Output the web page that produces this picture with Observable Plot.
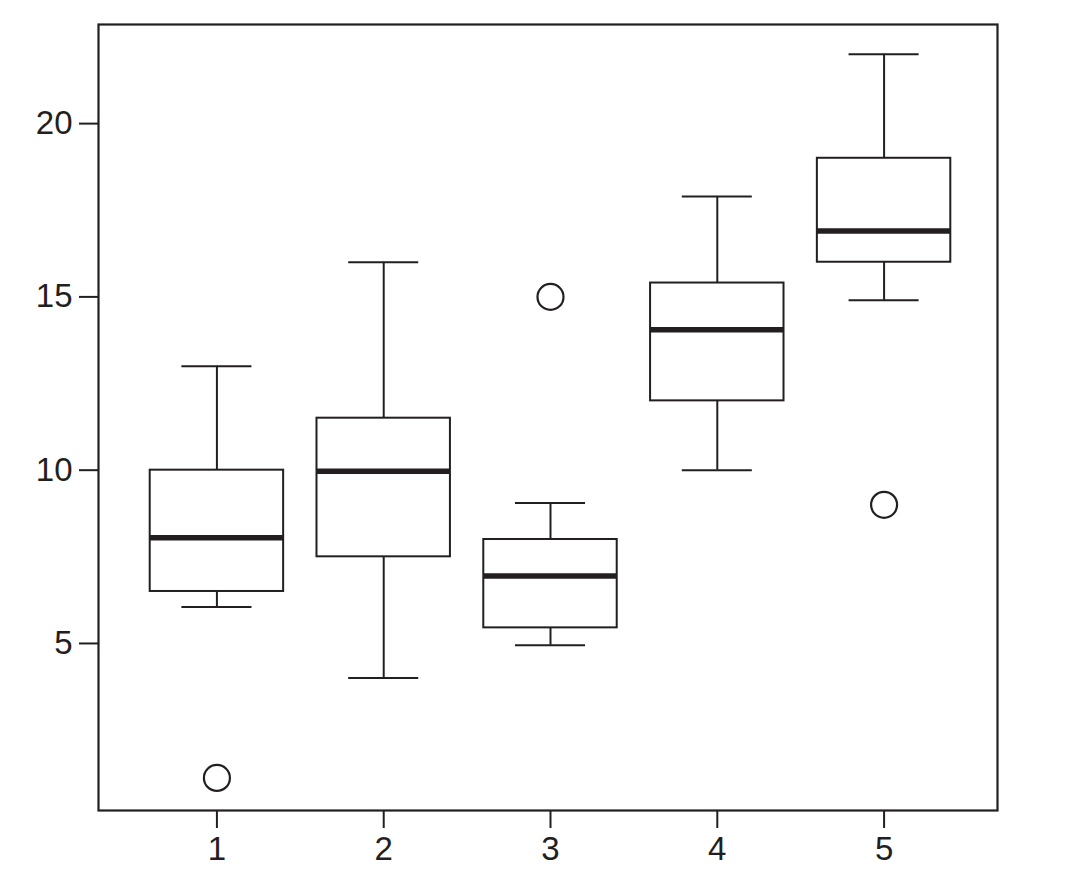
<!DOCTYPE html>
<html>
<head>
<meta charset="utf-8">
<script src="https://cdn.jsdelivr.net/npm/d3@7"></script>
<script src="https://cdn.jsdelivr.net/npm/@observablehq/plot@0.6"></script>
<style>
  html, body { margin: 0; padding: 0; background: #fff; }
  #chart svg { display: block; }
</style>
</head>
<body>
<div id="chart"></div>
<script>
const groups   = [1, 2, 3, 4, 5];
const lowWhisk = [6.05, 4, 4.95, 10, 14.9];
const q1       = [6.5, 7.5, 5.45, 12, 16];
const median   = [8.05, 9.97, 6.95, 14.05, 16.9];
const q3       = [10, 11.5, 8.0, 15.4, 19];
const highWhisk= [13, 16, 9.05, 17.9, 22];
const outlierGroup = [1, 3, 5];
const outlierValue = [1.12, 15, 9];
const yTicks = [5, 10, 15, 20];

const boxes = groups.map((g, i) => ({
  g, lo: lowWhisk[i], q1: q1[i], med: median[i], q3: q3[i], hi: highWhisk[i]
}));
const outliers = outlierGroup.map((g, i) => ({g, v: outlierValue[i]}));

const ink = "#231f20";
const halfBox = 0.4, halfCap = 0.21;

const chart = Plot.plot({
  width: 1066,
  height: 891,
  marginLeft: 98,
  marginRight: 69,
  marginTop: 24,
  marginBottom: 81,
  style: {fontFamily: "'Liberation Sans', Arial, sans-serif", color: ink, background: "#fff"},
  x: {type: "linear", domain: [0.29, 5.68]},
  y: {domain: [0.18, 22.86]},
  marks: [
    Plot.frame({stroke: ink, strokeWidth: 2.2}),
    // whiskers
    Plot.ruleX(boxes, {x: "g", y1: "lo", y2: "q1", stroke: ink, strokeWidth: 2}),
    Plot.ruleX(boxes, {x: "g", y1: "q3", y2: "hi", stroke: ink, strokeWidth: 2}),
    // caps
    Plot.ruleY(boxes, {y: "lo", x1: d => d.g - halfCap, x2: d => d.g + halfCap, stroke: ink, strokeWidth: 2}),
    Plot.ruleY(boxes, {y: "hi", x1: d => d.g - halfCap, x2: d => d.g + halfCap, stroke: ink, strokeWidth: 2}),
    // boxes
    Plot.rect(boxes, {x1: d => d.g - halfBox, x2: d => d.g + halfBox, y1: "q1", y2: "q3",
      fill: "white", stroke: ink, strokeWidth: 2}),
    // medians
    Plot.ruleY(boxes, {y: "med", x1: d => d.g - halfBox, x2: d => d.g + halfBox, stroke: ink, strokeWidth: 5.5}),
    // outliers
    Plot.dot(outliers, {x: "g", y: "v", r: 13, stroke: ink, strokeWidth: 2.2, fill: "white"}),
    // axes
    Plot.axisY({ticks: yTicks, tickSize: 19, tickPadding: 7, fontSize: 33, stroke: ink, strokeWidth: 2, fill: ink, label: null}),
    Plot.axisX({ticks: groups, tickSize: 18, tickPadding: 8, fontSize: 33, stroke: ink, strokeWidth: 2, fill: ink, label: null, tickFormat: d3.format("d")})
  ]
});
document.getElementById("chart").appendChild(chart);
</script>
</body>
</html>
